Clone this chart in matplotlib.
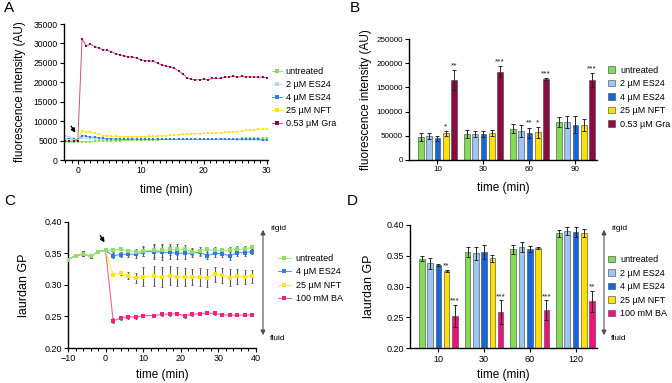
import matplotlib
matplotlib.use("Agg")
import matplotlib.pyplot as plt
import numpy as np
from matplotlib.ticker import MultipleLocator, FormatStrFormatter

plt.rcParams['font.family'] = ['Liberation Sans', 'DejaVu Sans']
plt.rcParams['axes.linewidth'] = 1.0
plt.rcParams['xtick.major.size'] = 3
plt.rcParams['ytick.major.size'] = 3
plt.rcParams['xtick.minor.size'] = 1.8
plt.rcParams['xtick.major.pad'] = 1.5
plt.rcParams['ytick.major.pad'] = 1.5

# ---------------- panel A data (fluorescence, every 40 s) ----------------
time_a = [-2.0, -1.33, -0.67, 0.0, 0.67, 1.33, 2.0, 2.67, 3.33, 4.0, 4.67, 5.33,
          6.0, 6.67, 7.33, 8.0, 8.67, 9.33, 10.0, 10.67, 11.33, 12.0, 12.67, 13.33,
          14.0, 14.67, 15.33, 16.0, 16.67, 17.33, 18.0, 18.67, 19.33, 20.0, 20.67,
          21.33, 22.0, 22.67, 23.33, 24.0, 24.67, 25.33, 26.0, 26.67, 27.33, 28.0,
          28.67, 29.33, 30.0]
a_untreated = [4700, 4600, 4600, 4700,
               4700, 4700, 4700, 4800, 4900, 4900, 4900, 5000, 5000, 5000,
               5100, 5100, 5100, 5200, 5200, 5200, 5200, 5200, 5200, 5300,
               5300, 5300, 5300, 5300, 5300, 5300, 5300, 5300, 5300, 5300,
               5300, 5300, 5300, 5400, 5300, 5400, 5400, 5400, 5600, 5600,
               5600, 5600, 5600, 5600, 5600]
a_es24_2 = [6200, 5900, 5700, 5500,
            5700, 5600, 5500, 5400, 5400, 5300, 5300, 5300, 5300, 5300,
            5300, 5300, 5300, 5300, 5300, 5300, 5300, 5300, 5300, 5300,
            5300, 5300, 5300, 5300, 5300, 5300, 5300, 5300, 5300, 5300,
            5300, 5300, 5300, 5300, 5300, 5300, 5300, 5200, 5200, 5200,
            5200, 5200, 5100, 5100, 5100]
a_es24_4 = [5500, 5400, 5300, 5200,
            6300, 6100, 5900, 5800, 5700, 5600, 5500, 5500, 5400, 5400,
            5300, 5300, 5400, 5300, 5300, 5300, 5300, 5300, 5300, 5300,
            5300, 5300, 5300, 5300, 5300, 5300, 5300, 5300, 5300, 5300,
            5300, 5300, 5300, 5400, 5300, 5300, 5300, 5300, 5300, 5300,
            5300, 5300, 5300, 5200, 5200]
a_nft = [5300, 5200, 5100, 5100,
         7500, 7300, 7100, 6900, 6600, 6300, 6200, 6100, 6100, 6000,
         6000, 6000, 6000, 6000, 6000, 6000, 6100, 6100, 6200, 6200,
         6300, 6400, 6400, 6500, 6600, 6700, 6800, 6800, 6800, 6900,
         6900, 6900, 7000, 7000, 7100, 7200, 7300, 7300, 7400, 7600,
         7600, 7800, 8000, 8000, 7900]
a_gra = [4900, 4800, 4900, 5000,
         31200, 29300, 29800, 29200, 28800, 28400, 28200, 27900, 27400, 27100,
         26800, 26600, 26500, 26200, 25800, 25600, 25500, 25400, 24900, 24500,
         24200, 24000, 23600, 22900, 22100, 21200, 20800, 20600, 20700, 20800,
         20600, 21000, 21000, 21000, 21300, 21400, 21500, 21300, 21500, 21400,
         21400, 21300, 21300, 21300, 21200]
a_labels = ['untreated', '2 µM ES24', '4 µM ES24', '25 µM NFT', '0.53 µM Gra']

# ---------------- panel B data (bars) ----------------
b_times = ['10', '30', '60', '90']
b_labels = ['untreated', '2 µM ES24', '4 µM ES24', '25 µM NFT', '0.53 µM Gra']
b_means = [[48000, 53000, 64700, 78000],
           [49600, 53700, 60500, 78500],
           [44800, 53000, 56000, 73000],
           [55000, 55000, 57000, 72500],
           [165000, 182500, 167000, 165000]]
b_err = [[8000, 8000, 9000, 10000],
         [6000, 7000, 12000, 12000],
         [5000, 6000, 11000, 17000],
         [5000, 6000, 11000, 13000],
         [20000, 12000, 1500, 15000]]
b_stars = [['', '', '', ''],
           ['', '', '', ''],
           ['', '', '**', ''],
           ['*', '', '*', ''],
           ['**', '***', '***', '***']]

# ---------------- panel C data (laurdan GP time course) ----------------
time_c = [-10, -8, -6, -4, -2, 0, 2, 4, 6, 8, 10, 13, 15, 17, 19, 21, 23, 25,
          27, 29, 31, 33, 35, 37, 39]
c_pre = [0.340, 0.346, 0.349, 0.345, 0.3525, 0.3547]
c_untreated = c_pre + [0.3552, 0.3568, 0.3536, 0.3526, 0.354, 0.3545, 0.3545,
                       0.356, 0.356, 0.3568, 0.3526, 0.354, 0.356, 0.355, 0.355,
                       0.3545, 0.356, 0.357, 0.3594]
c_es24 = c_pre + [0.346, 0.348, 0.3485, 0.3485, 0.3525, 0.3525, 0.3515, 0.3515,
                  0.350, 0.350, 0.350, 0.3515, 0.3462, 0.350, 0.3494, 0.346,
                  0.351, 0.351, 0.3526]
c_nft = c_pre + [0.3157, 0.3184, 0.3147, 0.3105, 0.313, 0.314, 0.313, 0.3147,
                 0.313, 0.312, 0.312, 0.3125, 0.3105, 0.317, 0.3152, 0.3115,
                 0.3136, 0.313, 0.3136]
c_ba = c_pre + [0.2434, 0.2471, 0.2497, 0.2487, 0.2513, 0.2513, 0.2534, 0.2537,
                0.2545, 0.2508, 0.2534, 0.254, 0.2555, 0.255, 0.2524, 0.252,
                0.252, 0.252, 0.2529]
c_err_pre = [0.002, 0.002, 0.004, 0.002, 0.002, 0.002]
c_untreated_err = c_err_pre + [0.003, 0.002, 0.003, 0.004, 0.008, 0.010, 0.010,
                               0.008, 0.008, 0.007, 0.005, 0.006, 0.004, 0.005,
                               0.004, 0.005, 0.005, 0.004, 0.003]
c_es24_err = c_err_pre + [0.004, 0.004, 0.005, 0.006, 0.007, 0.011, 0.012,
                          0.010, 0.009, 0.009, 0.006, 0.006, 0.005, 0.006,
                          0.005, 0.006, 0.006, 0.005, 0.004]
c_nft_err = c_err_pre + [0.002, 0.003, 0.005, 0.008, 0.015, 0.016, 0.016, 0.015,
                         0.015, 0.014, 0.013, 0.014, 0.014, 0.012, 0.012, 0.013,
                         0.012, 0.011, 0.010]
c_ba_err = c_err_pre + [0.004, 0.003, 0.003, 0.003, 0.003, 0.002, 0.002, 0.003,
                        0.003, 0.003, 0.002, 0.002, 0.002, 0.002, 0.002, 0.002,
                        0.002, 0.002, 0.002]
c_labels = ['untreated', '4 µM ES24', '25 µM NFT', '100 mM BA']

# ---------------- panel D data (bars) ----------------
d_times = ['10', '30', '60', '120']
d_labels = ['untreated', '2 µM ES24', '4 µM ES24', '25 µM NFT', '100 mM BA']
d_means = [[0.345, 0.356, 0.3605, 0.3865],
           [0.338, 0.354, 0.365, 0.390],
           [0.335, 0.356, 0.361, 0.389],
           [0.325, 0.346, 0.363, 0.387],
           [0.253, 0.259, 0.262, 0.276]]
d_err = [[0.004, 0.008, 0.007, 0.006],
         [0.009, 0.011, 0.008, 0.006],
         [0.001, 0.011, 0.005, 0.008],
         [0.002, 0.006, 0.002, 0.007],
         [0.018, 0.019, 0.016, 0.017]]
d_stars = [['', '', '', ''],
           ['', '', '', ''],
           ['', '', '', ''],
           ['**', '', '', ''],
           ['***', '***', '***', '**']]

# colours
green, lblue, blue, yellow, maroon, pink = '#84DB55', '#9EC6F1', '#1468D8', '#FFE100', '#8C0B40', '#F0127A'

W, H = 672, 383
fig = plt.figure(figsize=(W / 100, H / 100), dpi=100)


def box(l, t, r, b):
    return [l / W, 1 - b / H, (r - l) / W, (b - t) / H]


def style(ax, fs=6.5):
    for s in ['top', 'right']:
        ax.spines[s].set_visible(False)
    ax.tick_params(labelsize=fs, width=0.8)
    ax.tick_params(which='minor', width=0.7)


# ---------------- A ----------------
axA = fig.add_axes(box(64, 24, 268, 160))
style(axA, 6.2)
a_series = [a_untreated, a_es24_2, a_es24_4, a_nft, a_gra]
a_line = ['#9BE577', '#C9E2F8', '#5C9CEB', '#FFEA4A', '#C4567E']
a_mark = [green, '#B5D6F5', '#2F7DE3', '#FFE21A', maroon]
for vals, lc, mc, lab in zip(a_series, a_line, a_mark, a_labels):
    axA.plot(time_a, vals, '-', color=lc, lw=0.7, marker='s', ms=2.1, mew=0,
             mfc=mc, label=lab)
axA.set_xlim(-2.2, 30.2)
axA.set_ylim(0, 35000)
axA.yaxis.set_major_locator(MultipleLocator(5000))
axA.xaxis.set_major_locator(MultipleLocator(10))
axA.xaxis.set_minor_locator(MultipleLocator(1))
axA.set_xlabel('time (min)', fontsize=8.5, labelpad=6)
axA.set_ylabel('fluorescence intensity (AU)', fontsize=8.5, labelpad=5)
axA.annotate('', xy=(-0.15, 6400), xytext=(-1.3, 9300),
             arrowprops=dict(arrowstyle='-|>', color='black', lw=1.0, mutation_scale=6))
axA.legend(loc='center left', bbox_to_anchor=(1.02, 0.46), frameon=False, fontsize=6.5,
           handlelength=1.1, handletextpad=0.4, labelspacing=0.45, borderpad=0,
           borderaxespad=0, markerscale=1.2)

# ---------------- bar helper ----------------
pitch, bw = 0.181, 0.123


def bars(ax, means, errs, stars, labels, colors, cats, star_pad, legend_y):
    x = np.arange(len(cats))
    for k in range(len(means)):
        pos = x + (k - 2) * pitch
        ax.bar(pos, means[k], width=bw, color=colors[k], edgecolor='0.25',
               linewidth=0.4, label=labels[k], zorder=2)
        ax.errorbar(pos, means[k], yerr=errs[k], fmt='none', ecolor='0.15',
                    elinewidth=0.7, capsize=1.5, capthick=0.7, zorder=3)
        for p, m, e, s in zip(pos, means[k], errs[k], stars[k]):
            if s:
                ax.text(p, m + e + star_pad, s, ha='center', va='bottom',
                        fontsize=6, color='0.1')
    ax.set_xticks(x)
    ax.set_xticklabels(cats)
    ax.set_xlim(-0.62, 3.47)
    ax.legend(loc='center left', bbox_to_anchor=(1.06, legend_y), frameon=False,
              fontsize=6.5, handlelength=0.75, handleheight=0.75,
              handletextpad=0.6, labelspacing=0.5, borderpad=0, borderaxespad=0)


bar_colors_b = [green, lblue, blue, yellow, maroon]
bar_colors_d = [green, lblue, blue, yellow, pink]

# ---------------- B ----------------
axB = fig.add_axes(box(409, 39, 597, 160))
style(axB, 5.8)
bars(axB, b_means, b_err, b_stars, b_labels, bar_colors_b, b_times, 1500, 0.52)
axB.set_ylim(0, 250000)
axB.yaxis.set_major_locator(MultipleLocator(50000))
axB.set_xlabel('time (min)', fontsize=8.5, labelpad=6)
axB.set_ylabel('fluorescence intensity (AU)', fontsize=8.5, labelpad=3)

# ---------------- C ----------------
axC = fig.add_axes(box(68, 221.7, 256, 348))
style(axC)
c_series = [c_untreated, c_es24, c_nft, c_ba]
c_errs = [c_untreated_err, c_es24_err, c_nft_err, c_ba_err]
c_line = ['#A6E67E', '#5A9BEA', '#FFE94A', '#F560A0']
c_mark = ['#8EE060', '#2B7DE0', '#FFE31C', '#F0247F']
zs = [5, 4, 3, 2]
for vals, errs, lc, mc, lab, z in zip(c_series, c_errs, c_line, c_mark, c_labels, zs):
    axC.errorbar(time_c, vals, yerr=errs, fmt='none', ecolor='0.35', elinewidth=0.8,
                 capsize=1, capthick=0.6, zorder=1)
    axC.plot(time_c, vals, '-', color=lc, lw=0.8, marker='s', ms=2.7, mew=0,
             mfc=mc, label=lab, zorder=z)
axC.set_xlim(-10, 40)
axC.set_ylim(0.20, 0.40)
axC.yaxis.set_major_locator(MultipleLocator(0.05))
axC.yaxis.set_major_formatter(FormatStrFormatter('%.2f'))
axC.xaxis.set_major_locator(MultipleLocator(10))
axC.xaxis.set_minor_locator(MultipleLocator(2))
axC.set_xlabel('time (min)', fontsize=8.5, labelpad=4)
axC.set_ylabel('laurdan GP', fontsize=9, labelpad=10)
axC.annotate('', xy=(0.1, 0.3635), xytext=(-1.8, 0.3815),
             arrowprops=dict(arrowstyle='-|>', color='black', lw=1.0, mutation_scale=6))
axC.legend(loc='center left', bbox_to_anchor=(1.115, 0.55), frameon=False,
           fontsize=6.5, handlelength=1.5, handletextpad=0.5, labelspacing=0.5,
           borderpad=0, borderaxespad=0)

# ---------------- D ----------------
axD = fig.add_axes(box(410, 225, 597, 348.3))
style(axD)
bars(axD, d_means, d_err, d_stars, d_labels, bar_colors_d, d_times, 0.0005, 0.5)
axD.set_ylim(0.20, 0.40)
axD.yaxis.set_major_locator(MultipleLocator(0.05))
axD.yaxis.set_major_formatter(FormatStrFormatter('%.2f'))
axD.set_xlabel('time (min)', fontsize=8.5, labelpad=4)
axD.set_ylabel('laurdan GP', fontsize=9, labelpad=8)

# rigid / fluid arrows
for xa in (263, 604):
    fig.add_artist(matplotlib.patches.FancyArrowPatch(
        (xa / W, 1 - 338 / H), (xa / W, 1 - 227 / H), transform=fig.transFigure,
        arrowstyle='<|-|>', mutation_scale=7, color='0.3', lw=0.8))
    fig.text((xa + 7) / W, 1 - 228 / H, 'rigid', fontsize=6, va='center', ha='left')
    fig.text((xa + 7) / W, 1 - 338 / H, 'fluid', fontsize=6, va='center', ha='left')

# panel letters
for lab, xx, yy in [('A', 4, 1), ('B', 350, 1), ('C', 4, 194), ('D', 347, 194)]:
    fig.text(xx / W, 1 - yy / H, lab, fontsize=11, va='top', ha='left')

fig.savefig('out.png', dpi=100)
